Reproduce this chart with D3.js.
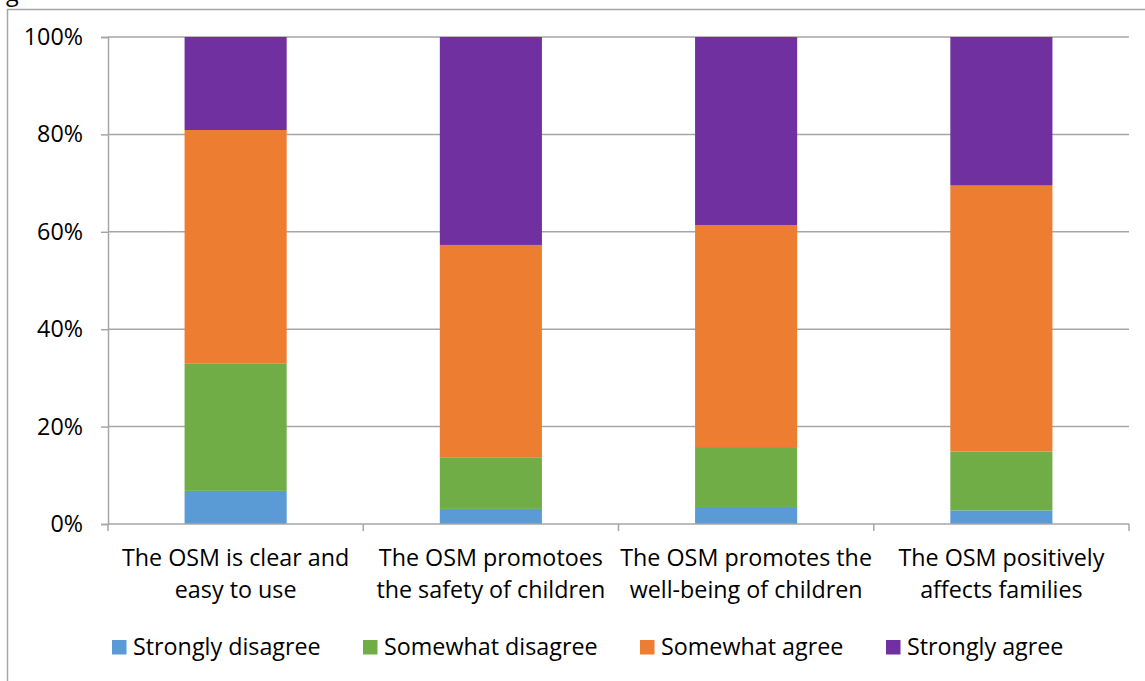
<!DOCTYPE html>
<html><head><meta charset="utf-8">
<script src="https://cdn.jsdelivr.net/npm/d3@7"></script>
<style>body{margin:0;background:#fff;}svg{display:block;font-family:"Open Sans",sans-serif;}</style>
</head><body>
<svg id="c" width="1145" height="681"></svg>
<script>
const categories = [
  ["The OSM is clear and", "easy to use"],
  ["The OSM promotoes", "the safety of children"],
  ["The OSM promotes the", "well-being of children"],
  ["The OSM positively", "affects families"]
];
const seriesNames = ["Strongly disagree", "Somewhat disagree", "Somewhat agree", "Strongly agree"];
const stronglyDisagree = [6.8, 3.1, 3.5, 2.8];
const somewhatDisagree = [26.1, 10.6, 12.3, 12.1];
const somewhatAgree = [48.0, 43.6, 45.6, 54.6];
const stronglyAgree = [19.1, 42.7, 38.6, 30.5];
const yTicks = [0, 20, 40, 60, 80, 100];
const colors = ["#5B9BD5", "#70AD47", "#ED7D31", "#7030A0"];

const FONT = "'Open Sans',sans-serif";
const FS = 23.3;
const svg = d3.select("#c");
const pL = 108, pR = 1129, pT = 37, pB = 524;

// frame
svg.append("rect").attr("x", 7.5).attr("y", 9.5).attr("width", 1145).attr("height", 700)
  .attr("fill", "none").attr("stroke", "#A6A6A6").attr("stroke-width", 1.5);
svg.append("text").attr("x", 6).attr("y", 1).attr("font-size", FS).attr("font-family", FONT).attr("fill", "#000").text("g");

const keys = ["sd", "swd", "swa", "sa"];
const rows = categories.map((c, i) => ({cat: i, sd: stronglyDisagree[i], swd: somewhatDisagree[i], swa: somewhatAgree[i], sa: stronglyAgree[i]}));
const stack = d3.stack().keys(keys)(rows);

const x = d3.scaleBand().domain(d3.range(categories.length)).range([pL, pR]).paddingInner(0.6).paddingOuter(0.3);
const xb = d3.scaleBand().domain(d3.range(categories.length)).range([pL, pR]).padding(0);
const y = d3.scaleLinear().domain([0, 100]).range([pB, pT]);

// gridlines
svg.append("g").selectAll("line").data(yTicks.filter(t => t > 0)).join("line")
  .attr("x1", pL).attr("x2", pR).attr("y1", d => y(d)).attr("y2", d => y(d))
  .attr("stroke", "#A6A6A6").attr("stroke-width", 1.5);

// y axis
const yAxis = svg.append("g").attr("transform", `translate(${pL},0)`)
  .call(d3.axisLeft(y).tickValues(yTicks).tickFormat(d => d + "%").tickSize(7).tickPadding(18));
yAxis.select(".domain").attr("stroke", "#A6A6A6").attr("stroke-width", 1.5);
yAxis.selectAll(".tick line").attr("stroke", "#A6A6A6").attr("stroke-width", 1.5);
yAxis.selectAll("text").attr("font-size", FS).attr("fill", "#000").attr("font-family", FONT);

// bars
svg.append("g").selectAll("g").data(stack).join("g").attr("fill", (d, i) => colors[i])
  .selectAll("rect").data(d => d).join("rect")
  .attr("x", d => x(d.data.cat)).attr("width", x.bandwidth())
  .attr("y", d => y(d[1])).attr("height", d => y(d[0]) - y(d[1]));

// x axis
svg.append("line").attr("x1", pL).attr("x2", pR).attr("y1", pB).attr("y2", pB)
  .attr("stroke", "#A6A6A6").attr("stroke-width", 1.5);
const bounds = d3.range(categories.length + 1).map(i => i < categories.length ? xb(i) : xb(i - 1) + xb.bandwidth());
svg.append("g").selectAll("line").data(bounds).join("line")
  .attr("x1", d => d).attr("x2", d => d).attr("y1", pB).attr("y2", pB + 7)
  .attr("stroke", "#A6A6A6").attr("stroke-width", 1.5);

const lab = svg.append("g").selectAll("text").data(categories).join("text")
  .attr("text-anchor", "middle").attr("font-size", FS).attr("font-family", FONT).attr("fill", "#000")
  .attr("transform", (d, i) => `translate(${x(i) + x.bandwidth() / 2},0)`);
lab.selectAll("tspan").data(d => d).join("tspan").attr("x", 0).attr("y", (d, j) => 566 + j * 32).text(d => d);

// legend
const legendX = [112, 363, 640, 886];
const lg = svg.append("g").selectAll("g").data(seriesNames).join("g")
  .attr("transform", (d, i) => `translate(${legendX[i]},640)`);
lg.append("rect").attr("width", 14.5).attr("height", 14.5).attr("fill", (d, i) => colors[i]);
lg.append("text").attr("x", 21).attr("y", 15).attr("font-size", FS).attr("font-family", FONT).attr("fill", "#000").text(d => d);
</script>
</body></html>
